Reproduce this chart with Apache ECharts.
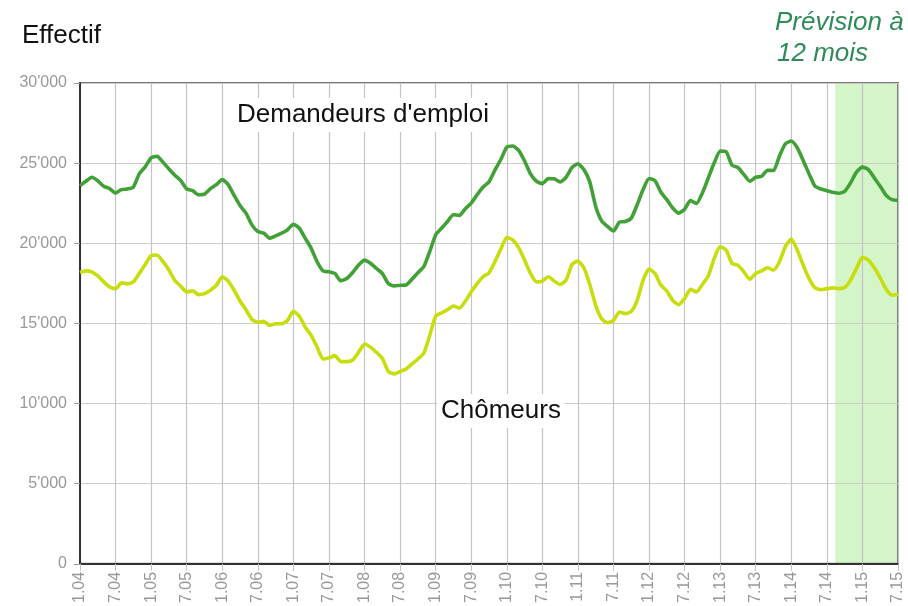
<!DOCTYPE html>
<html>
<head>
<meta charset="utf-8">
<script src="https://cdn.jsdelivr.net/npm/echarts@6/dist/echarts.min.js"></script>
<style>
html,body{margin:0;padding:0;background:#fff;}
#chart{width:908px;height:606px;}
</style>
</head>
<body>
<div id="chart"></div>
<script>
// Monthly values, Jan 2004 (index 0) to Jul 2015 (index 138)
var tickLabels = ['1.04','7.04','1.05','7.05','1.06','7.06','1.07','7.07','1.08','7.08','1.09','7.09',
  '1.10','7.10','1.11','7.11','1.12','7.12','1.13','7.13','1.14','7.14','1.15','7.15'];

var demandeurs = [
  23600,23870,24120,23900,23560,23410,23140,23350,23390,23510,24330,24770,
  25330,25420,25060,24640,24250,23910,23390,23280,23030,23070,23410,23660,
  23970,23660,22990,22350,21880,21150,20730,20630,20310,20460,20630,20840,
  21190,20940,20310,19690,18850,18280,18220,18120,17660,17800,18180,18640,
  18950,18750,18430,18120,17490,17340,17380,17400,17760,18160,18540,19480,
  20520,20940,21360,21780,21740,22150,22510,23030,23510,23830,24560,25230,
  26000,26070,25790,25130,24330,23870,23720,24040,24020,23830,24120,24730,
  24960,24600,23830,22300,21400,21050,20770,21320,21360,21570,22410,23350,
  24040,23910,23180,22720,22200,21880,22130,22660,22490,23140,24080,25020,
  25750,25710,24870,24730,24290,23870,24120,24180,24560,24540,25440,26210,
  26380,25960,25170,24330,23560,23390,23280,23180,23120,23240,23770,24440,
  24750,24600,24080,23560,22990,22720,22680
];

var chomeurs = [
  18180,18280,18220,17970,17590,17280,17170,17530,17470,17590,18120,18680,
  19230,19270,18850,18330,17680,17320,16970,17030,16800,16860,17070,17380,
  17910,17640,17070,16400,15850,15250,15080,15130,14870,14980,14980,15190,
  15750,15460,14770,14250,13520,12780,12850,12990,12620,12620,12720,13200,
  13720,13520,13200,12830,12010,11850,11990,12150,12470,12780,13140,14250,
  15460,15650,15860,16090,15960,16380,16970,17490,17910,18160,18850,19640,
  20360,20210,19730,18950,18120,17590,17640,17910,17640,17430,17700,18680,
  18890,18470,17430,16130,15290,15040,15190,15710,15610,15750,16440,17700,
  18390,18120,17390,17010,16440,16170,16550,17130,16970,17430,17970,19060,
  19790,19580,18750,18620,18220,17760,18120,18280,18470,18330,18850,19790,
  20270,19580,18640,17800,17220,17110,17170,17220,17170,17240,17700,18430,
  19120,18950,18470,17840,17130,16760,16800
];

// 12-month forecast band (month index range, full y range)
var forecastStart = 127.4;
var forecastEnd = 138;
var forecastTop = 30000;

var font = '"Liberation Sans", Arial, sans-serif';
var chart = echarts.init(document.getElementById('chart'), null, {renderer: 'canvas'});

function pairs(arr){ return arr.map(function(v,i){ return [i,v]; }); }

chart.setOption({
  animation: false,
  backgroundColor: '#fff',
  grid: {left: 80, right: 10, top: 83, bottom: 42, show: true, zlevel: 1, borderColor: '#777', borderWidth: 2, backgroundColor: 'transparent'},
  xAxis: {
    type: 'value', min: 0, max: 138, interval: 6, zlevel: 1,
    axisLine: {show: true, lineStyle: {color: '#333', width: 2}},
    axisTick: {show: true, length: 7, lineStyle: {color: '#c4c4c4'}},
    splitLine: {show: true, lineStyle: {color: '#c4c4c4', width: 1.2}},
    axisLabel: {
      rotate: 90, margin: 8, color: '#999', fontSize: 16, fontFamily: font,
      formatter: function(v){ return tickLabels[Math.round(v/6)] || ''; }
    }
  },
  yAxis: {
    type: 'value', min: 0, max: 30000, interval: 5000, zlevel: 1,
    axisLine: {show: true, lineStyle: {color: '#333', width: 2}},
    axisTick: {show: true, length: 6, lineStyle: {color: '#999'}},
    splitLine: {show: true, lineStyle: {color: '#cccccc', width: 1.2}},
    axisLabel: {
      margin: 13, color: '#999', fontSize: 16, fontFamily: font,
      formatter: function(v){ return v === 0 ? '0' : (v/1000) + "'000"; }
    }
  },
  series: [
    {
      name: 'Prévision', type: 'line', silent: true, zlevel: 0, z: 0,
      data: [[forecastStart, forecastTop], [forecastEnd, forecastTop]],
      showSymbol: false, symbol: 'none',
      lineStyle: {width: 0, opacity: 0},
      areaStyle: {color: '#d4f5c8', opacity: 1, origin: 'start'}
    },
    {
      name: "Demandeurs d'emploi", type: 'line', data: pairs(demandeurs), zlevel: 1, z: 4,
      showSymbol: false, smooth: 0.2,
      lineStyle: {color: '#41a036', width: 3.6}
    },
    {
      name: 'Chômeurs', type: 'line', data: pairs(chomeurs), zlevel: 1, z: 4,
      showSymbol: false, smooth: 0.2,
      lineStyle: {color: '#c8dd0c', width: 3.6}
    }
  ],
  graphic: [
    {type: 'text', left: 22, top: 23, zlevel: 1, z: 10, style: {text: 'Effectif', fontSize: 26, fontFamily: font, fill: '#111'}},
    {type: 'text', left: 233, top: 98, zlevel: 1, z: 10, style: {text: "Demandeurs d'emploi", fontSize: 26, fontFamily: font, fill: '#111', backgroundColor: '#fff', padding: [4, 4, 4, 4]}},
    {type: 'text', left: 437, top: 394, zlevel: 1, z: 10, style: {text: 'Chômeurs', fontSize: 26, fontFamily: font, fill: '#111', backgroundColor: '#fff', padding: [4, 4, 4, 4]}},
    {type: 'text', left: 775, top: 10, zlevel: 1, z: 10, style: {text: 'Prévision à', fontSize: 26, fontStyle: 'italic', fontFamily: font, fill: '#2e8b57'}},
    {type: 'text', left: 777, top: 41, zlevel: 1, z: 10, style: {text: '12 mois', fontSize: 26, fontStyle: 'italic', fontFamily: font, fill: '#2e8b57'}}
  ]
});
</script>
</body>
</html>
